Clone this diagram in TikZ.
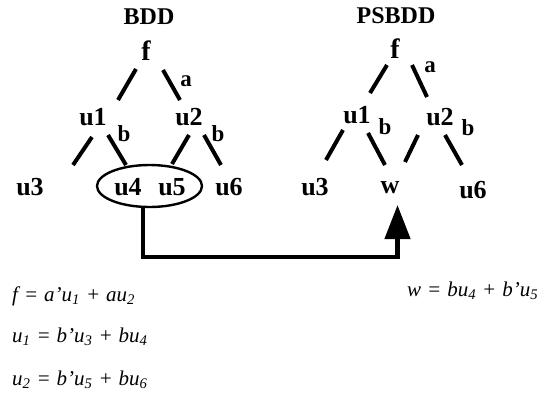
\documentclass[tikz,border=0pt]{standalone}
\usepackage{fontspec}
\setmainfont{Liberation Serif}
\usetikzlibrary{shapes.geometric,arrows.meta,calc}
\newcommand{\eqgap}{\hspace{6pt}}
\tikzset{
  lbl/.style={inner sep=0pt, font=\bfseries\fontsize{26}{28}\selectfont},
  root/.style={inner sep=0pt, font=\bfseries\fontsize{28}{30}\selectfont},
  elbl/.style={inner sep=0pt, font=\bfseries\fontsize{23}{25}\selectfont},
  ttl/.style={inner sep=0pt, font=\bfseries\fontsize{24}{26}\selectfont},
  edge/.style={line width=4pt, line cap=butt},
  grp/.style={draw, shape=ellipse, line width=2.4pt, inner sep=0pt, minimum width=105pt, minimum height=42pt},
  conn/.style={line width=4.5pt, -{Triangle[length=34pt,width=25pt]}},
  eqn/.style={inner sep=0pt, anchor=base west, font=\itshape\fontsize{21}{23}\selectfont}
}
\begin{document}
\begin{tikzpicture}[x=1pt,y=-1pt]
\useasboundingbox (0,0) rectangle (545,400);
% ---- BDD ----
\node[ttl] (t1) at (149,17) {BDD};
\node[root] (f) at (146,51) {f};
\node[lbl] (u1) at (93,117) {u1};
\node[lbl] (u2) at (189,117) {u2};
\node[elbl] (a1) at (186,81) {a};
\node[elbl] (b1) at (124,134) {b};
\node[elbl] (b2) at (218,134) {b};
\node[lbl] (u3) at (30,187) {u3};
\node[lbl] (u4) at (128,187) {u4};
\node[lbl] (u5) at (172,187) {u5};
\node[lbl] (u6) at (229,187) {u6};
\node[grp] (g) at (149.5,186) {};
\draw[edge] ([shift={(-10,18)}]f.center) -- ([shift={(25,-17)}]u1.center);
\draw[edge] ([shift={(17,19)}]f.center) -- ([shift={(-9,-17)}]u2.center);
\draw[edge] ([shift={(-1,20)}]u1.center) -- ([shift={(43,-22)}]u3.center);
\draw[edge] ([shift={(15,18)}]u1.center) -- ([shift={(-23.5,-21)}]g.center);
\draw[edge] ([shift={(0,18)}]u2.center) -- ([shift={(22.5,-22)}]g.center);
\draw[edge] ([shift={(15,18)}]u2.center) -- ([shift={(-8,-22)}]u6.center);
% ---- PSBDD ----
\node[ttl] (t2) at (396,16) {PSBDD};
\node[root] (pf) at (395,49) {f};
\node[lbl] (pu1) at (357,115) {u1};
\node[lbl] (pu2) at (440,117) {u2};
\node[elbl] (pa) at (430,67) {a};
\node[elbl] (pb1) at (385,127) {b};
\node[elbl] (pb2) at (468,128) {b};
\node[lbl] (pu3) at (315,187) {u3};
\node[lbl] (w) at (390,188) {w};
\node[lbl] (pu6) at (473,190) {u6};
\draw[edge] ([shift={(-8,16)}]pf.center) -- ([shift={(13,-22)}]pu1.center);
\draw[edge] ([shift={(17,16)}]pf.center) -- ([shift={(-13,-20)}]pu2.center);
\draw[edge] ([shift={(-14,15)}]pu1.center) -- ([shift={(11,-27)}]pu3.center);
\draw[edge] ([shift={(11,18)}]pu1.center) -- ([shift={(-5,-23)}]w.center);
\draw[edge] ([shift={(-22,18)}]pu2.center) -- ([shift={(15,-26)}]w.center);
\draw[edge] ([shift={(5,18)}]pu2.center) -- ([shift={(-11,-25)}]pu6.center);
% ---- connector ----
\draw[conn] ([xshift=-6.5pt]g.south) -- ++(0,49) -| ([shift={(7.5,17)}]w.center);
% ---- equations ----
\node[eqn] (e1) at (12,301) {f\eqgap{}={}\eqgap{}a'u\textsubscript{1}\eqgap{}+\eqgap{}au\textsubscript{2}};
\node[eqn] (e2) at (12,342) {u\textsubscript{1}\eqgap{}=\eqgap{}b'u\textsubscript{3}\eqgap{}+\eqgap{}bu\textsubscript{4}};
\node[eqn] (e3) at (12,385) {u\textsubscript{2}\eqgap{}=\eqgap{}b'u\textsubscript{5}\eqgap{}+\eqgap{}bu\textsubscript{6}};
\node[eqn] (e4) at (407,296) {w\eqgap{}=\eqgap{}bu\textsubscript{4}\eqgap{}+\eqgap{}b'u\textsubscript{5}};
\end{tikzpicture}
\end{document}
